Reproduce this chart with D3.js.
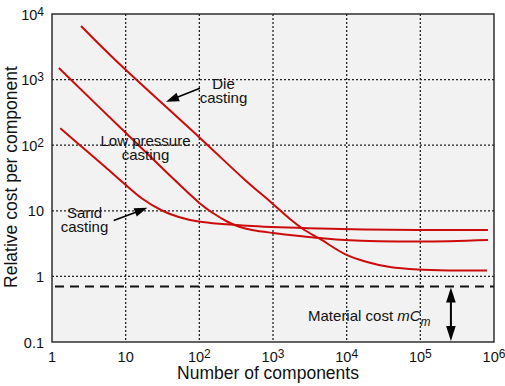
<!DOCTYPE html>
<html><head><meta charset="utf-8">
<script src="https://cdn.jsdelivr.net/npm/d3@7"></script>
<style>
body{margin:0;background:#fff;}
svg{display:block;font-family:"Liberation Sans",Arial,Helvetica,sans-serif;}
</style>
</head><body>
<svg id="chart" width="505" height="386"></svg>
<script>
// ---- data (number of components, relative cost per component) ----
const dieCasting = [[2.476,6560],[7.23,1990],[102,129],[417,29.5],[960,13.2],[1700,7.5],[2550,5.28],[4350,3.72],[9490,2.19],[18900,1.66],[38700,1.39],[92900,1.27],[253000,1.23],[803000,1.23]];
const lowPressureCasting = [[1.24,1500],[10,155],[100,13.2],[153,9.26],[245,6.75],[356,5.66],[519,5.1],[1000,4.59],[2325,4.13],[4350,3.85],[9500,3.59],[99000,3.4],[828000,3.59]];
const sandCasting = [[1.296,181],[2.83,85.1],[5.29,46.5],[9.7,25.6],[16.66,15.4],[31.1,10.1],[52.5,8.05],[98,6.87],[519,5.86],[4350,5.37],[93000,5.1],[828000,5.1]];
const materialCost = 0.70;
const materialArrowN = 2.6e5;

const xTickValues = [1,10,100,1000,10000,100000,1000000];
const xTickLabels = [["1",""],["10",""],["10","2"],["10","3"],["10","4"],["10","5"],["10","6"]];
const yTickValues = [0.1,1,10,100,1000,10000];
const yTickLabels = [["0.1",""],["1",""],["10",""],["10","2"],["10","3"],["10","4"]];
const xGrid = [10,100,1000,10000,100000];
const yGrid = [1,10,100,1000];

// annotations: text lines placed at (n, cost)
const labels = [
  {lines:["Die","casting"], n:213, c:711},
  {lines:["Low pressure","casting"], n:18.6, c:98},
  {lines:["Sand","casting"], n:2.76, c:7.76}
];
const arrows = [
  {from:[102,736], to:[35.3,460]},
  {from:[6.88,7.11], to:[19.7,11.1]}
];
const materialLabel = {n:2990, c:0.211};

// ---- layout ----
const svg = d3.select("#chart");
const L = 52, R = 494, T = 14, B = 342;
const x = d3.scaleLog().domain([1,1e6]).range([L,R]);
const y = d3.scaleLog().domain([0.1,1e4]).range([B,T]);

svg.append("rect").attr("x",L).attr("y",T).attr("width",R-L).attr("height",B-T)
  .attr("fill","#f2f2f2");

// grid
const grid = svg.append("g").attr("stroke","#222").attr("stroke-width",1.3).attr("stroke-dasharray","2,2");
grid.selectAll(".vx").data(xGrid).join("line")
  .attr("x1",d=>x(d)).attr("x2",d=>x(d)).attr("y1",T).attr("y2",B);
grid.selectAll(".hy").data(yGrid).join("line")
  .attr("y1",d=>y(d)).attr("y2",d=>y(d)).attr("x1",L).attr("x2",R);

// material cost dashed line
svg.append("line").attr("x1",L+3).attr("x2",R).attr("y1",y(materialCost)).attr("y2",y(materialCost))
  .attr("stroke","#111").attr("stroke-width",2).attr("stroke-dasharray","9,6");

// curves
const line = d3.line().x(d=>x(d[0])).y(d=>y(d[1])).curve(d3.curveCatmullRom.alpha(0.5));
[dieCasting, lowPressureCasting, sandCasting].forEach(s=>{
  svg.append("path").datum(s).attr("d",line).attr("fill","none")
    .attr("stroke","#cc0c0c").attr("stroke-width",2);
});

// border
svg.append("rect").attr("x",L).attr("y",T).attr("width",R-L).attr("height",B-T)
  .attr("fill","none").attr("stroke","#222").attr("stroke-width",1.4);

// arrow helper
function arrowHead(tx,ty,fx,fy,len,hw){
  const dx=tx-fx, dy=ty-fy, m=Math.hypot(dx,dy), ux=dx/m, uy=dy/m;
  const bx=tx-ux*len, by=ty-uy*len;
  return `M${tx},${ty}L${bx-uy*hw},${by+ux*hw}L${bx+uy*hw},${by-ux*hw}Z`;
}
arrows.forEach(a=>{
  const fx=x(a.from[0]), fy=y(a.from[1]), tx=x(a.to[0]), ty=y(a.to[1]);
  const dx=tx-fx, dy=ty-fy, m=Math.hypot(dx,dy);
  svg.append("line").attr("x1",fx).attr("y1",fy).attr("x2",tx-dx/m*8).attr("y2",ty-dy/m*8)
    .attr("stroke","#000").attr("stroke-width",1.6);
  svg.append("path").attr("d",arrowHead(tx,ty,fx,fy,13,4.5)).attr("fill","#000");
});

// material double arrow
{
  const ax=x(materialArrowN), y1=y(materialCost)+1, y2=B-1;
  svg.append("line").attr("x1",ax).attr("x2",ax).attr("y1",y1+8).attr("y2",y2-8)
    .attr("stroke","#000").attr("stroke-width",2);
  svg.append("path").attr("d",arrowHead(ax,y1,ax,y2,15,4.8)).attr("fill","#000");
  svg.append("path").attr("d",arrowHead(ax,y2,ax,y1,15,4.8)).attr("fill","#000");
}

// annotation labels
labels.forEach(l=>{
  const t = svg.append("text").attr("x",x(l.n)).attr("y",y(l.c))
    .attr("text-anchor","middle").attr("font-size",15).attr("fill","#111");
  l.lines.forEach((s,i)=>{
    t.append("tspan").attr("x",x(l.n)).attr("dy",i===0?0:14).text(s);
  });
});

{
  const t = svg.append("text").attr("x",x(materialLabel.n)).attr("y",y(materialLabel.c))
    .attr("font-size",15).attr("fill","#111");
  t.append("tspan").text("Material cost ");
  t.append("tspan").attr("font-style","italic").text("mC");
  t.append("tspan").attr("font-style","italic").attr("font-size",12).attr("dy",5).text("m");
}

// tick labels
function tickText(sel, lab){
  sel.append("tspan").text(lab[0]);
  if(lab[1]) sel.append("tspan").attr("font-size",12).attr("dy",-4).text(lab[1]);
}
xTickValues.forEach((v,i)=>{
  const t = svg.append("text").attr("x",x(v)).attr("y",B+20).attr("text-anchor","middle")
    .attr("font-size",14.5).attr("fill","#111");
  tickText(t, xTickLabels[i]);
});
yTickValues.forEach((v,i)=>{
  const t = svg.append("text").attr("x",L-8).attr("y",y(v)+5.5).attr("text-anchor","end")
    .attr("font-size",14.5).attr("fill","#111");
  tickText(t, yTickLabels[i]);
});

// axis titles
svg.append("text").attr("x",268).attr("y",379).attr("text-anchor","middle")
  .attr("font-size",17.5).attr("fill","#111").text("Number of components");
svg.append("text").attr("transform","translate(16.5,177) rotate(-90)").attr("text-anchor","middle")
  .attr("font-size",17.5).attr("fill","#111").text("Relative cost per component");
</script>
</body></html>
